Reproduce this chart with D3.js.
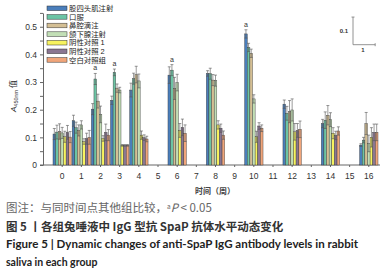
<!DOCTYPE html>
<html lang="zh">
<head>
  <meta charset="UTF-8">
  <title>IgG SpaP</title>
  <script src="https://d3js.org/d3.v7.min.js"></script>
  <style>
    body { margin: 0; background: #fff; }
    svg { display: block; }
    .cjk { font-family: "Noto Sans CJK SC", sans-serif; }
    .leg { font-family: "Liberation Sans", "Noto Sans CJK SC", sans-serif; }
    .axis text { font-family: "Liberation Sans", Arial, sans-serif; font-size: 8.5px; fill: #333; }
    .axis line, .axis path { stroke: #666; }
  </style>
</head>
<body>
  <div id="chart"></div>
  <script>
    // data
    const weeks = [0, 1, 2, 3, 4, 6, 8, 10, 12, 14, 16];
    const tickWeeks = d3.range(0, 17);
    const groups = ["股四头肌注射", "口服", "鼻腔滴注", "颌下腺注射", "阴性对照 1", "阴性对照 2", "空白对照组"];
    const colors = ["#4a7ebb", "#6cc4a4", "#d4bf94", "#c2dfb6", "#f7f35f", "#8a7692", "#f0a57a"];

    const quad  = [0.112, 0.160, 0.202, 0.234, 0.271, 0.325, 0.331, 0.474, 0.220, 0.150, 0.072];
    const oral  = [0.119, 0.135, 0.311, 0.335, 0.312, 0.343, 0.330, 0.425, 0.187, 0.162, 0.090];
    const nasal = [0.121, 0.125, 0.231, 0.278, 0.327, 0.277, 0.307, 0.404, 0.193, 0.180, 0.150];
    const subm  = [0.116, 0.145, 0.183, 0.271, 0.304, 0.298, 0.305, 0.239, 0.199, 0.164, 0.078];
    const neg1  = [0.102, 0.085, 0.096, 0.071, 0.108, 0.125, 0.145, 0.102, 0.120, 0.115, 0.100];
    const neg2  = [0.118, 0.095, 0.118, 0.071, 0.099, 0.136, 0.133, 0.141, 0.125, 0.107, 0.118];
    const blank = [0.101, 0.100, 0.108, 0.071, 0.094, 0.115, 0.108, 0.133, 0.129, 0.123, 0.118];
    const series = [quad, oral, nasal, subm, neg1, neg2, blank];

    const quadErr  = [0.020, 0.020, 0.020, 0.015, 0.025, 0.030, 0.010, 0.015, 0.015, 0.015, 0.005];
    const oralErr  = [0.025, 0.020, 0.020, 0.012, 0.020, 0.020, 0.020, 0.015, 0.025, 0.030, 0.010];
    const nasalErr = [0.028, 0.020, 0.025, 0.015, 0.030, 0.040, 0.020, 0.015, 0.040, 0.035, 0.040];
    const submErr  = [0.020, 0.015, 0.030, 0.010, 0.025, 0.030, 0.020, 0.015, 0.040, 0.025, 0.030];
    const neg1Err  = [0.020, 0.010, 0.010, 0.003, 0.015, 0.025, 0.015, 0.020, 0.030, 0.020, 0.035];
    const neg2Err  = [0.025, 0.020, 0.030, 0.003, 0.010, 0.030, 0.015, 0.012, 0.025, 0.015, 0.030];
    const blankErr = [0.020, 0.025, 0.020, 0.003, 0.010, 0.030, 0.015, 0.012, 0.030, 0.015, 0.030];
    const errors = [quadErr, oralErr, nasalErr, submErr, neg1Err, neg2Err, blankErr];

    // significance marks: [week, group index]
    const marks = [[2, 1], [3, 1], [6, 1], [10, 0]];

    const W = 389, H = 274;
    const svg = d3.select("#chart").append("svg")
      .attr("width", W).attr("height", H);

    const x = d3.scaleBand().domain(tickWeeks).range([53, 378]).paddingInner(0.04);
    const x1 = d3.scaleBand().domain(d3.range(groups.length)).range([0, x.bandwidth()]);
    const y = d3.scaleLinear().domain([0, 0.55]).range([165, 12.9]);

    const rows = [];
    weeks.forEach((w, i) => {
      series.forEach((s, g) => rows.push({ week: w, g: g, v: s[i], e: errors[g][i] }));
    });

    // y axis
    svg.append("g").attr("class", "axis")
      .attr("transform", "translate(43,0)")
      .call(d3.axisLeft(y)
        .tickValues(d3.range(0, 0.551, 0.05))
        .tickFormat(d => {
          const k = Math.round(d * 100);
          if (k % 10 !== 0) return "";
          return k === 0 ? "0" : d3.format(".1f")(d);
        })
        .tickSize(3).tickSizeOuter(0).tickPadding(3));

    // x axis
    const xg = svg.append("g").attr("class", "axis")
      .attr("transform", "translate(0,165)")
      .call(d3.axisBottom(x).tickSize(2).tickPadding(6));
    xg.select(".domain").remove();
    svg.append("line")
      .attr("x1", 40).attr("x2", 380).attr("y1", 165).attr("y2", 165)
      .attr("stroke", "#666");

    // bars
    const bars = svg.append("g");
    bars.selectAll("rect")
      .data(rows)
      .join("rect")
      .attr("x", d => x(d.week) + x1(d.g))
      .attr("y", d => y(d.v))
      .attr("width", x1.bandwidth())
      .attr("height", d => y(0) - y(d.v))
      .attr("fill", d => colors[d.g])
      .attr("stroke", "#333")
      .attr("stroke-width", 0.4);

    // error bars
    const eb = svg.append("g").attr("stroke", "#555").attr("stroke-width", 0.6);
    rows.forEach(d => {
      const cx = x(d.week) + x1(d.g) + x1.bandwidth() / 2;
      eb.append("line").attr("x1", cx).attr("x2", cx)
        .attr("y1", y(d.v - d.e)).attr("y2", y(d.v + d.e));
      eb.append("line").attr("x1", cx - 1.5).attr("x2", cx + 1.5)
        .attr("y1", y(d.v + d.e)).attr("y2", y(d.v + d.e));
      eb.append("line").attr("x1", cx - 1.5).attr("x2", cx + 1.5)
        .attr("y1", y(d.v - d.e)).attr("y2", y(d.v - d.e));
    });

    // "a" marks
    svg.append("g").selectAll("text")
      .data(marks)
      .join("text")
      .attr("x", d => x(d[0]) + x1(d[1]) + x1.bandwidth() / 2)
      .attr("y", d => {
        const i = weeks.indexOf(d[0]);
        return y(series[d[1]][i] + errors[d[1]][i]) - 3;
      })
      .attr("text-anchor", "middle")
      .style("font-family", "Liberation Sans, Arial, sans-serif")
      .style("font-size", "7px")
      .attr("fill", "#333")
      .text("a");

    // legend
    const legend = svg.append("g").selectAll("g")
      .data(groups)
      .join("g")
      .attr("transform", (d, i) => `translate(47,${6 + i * 8.6})`);
    legend.append("rect")
      .attr("width", 20).attr("height", 4.6)
      .attr("fill", (d, i) => colors[i])
      .attr("stroke", "#333").attr("stroke-width", 0.5);
    legend.append("text")
      .attr("class", "leg")
      .attr("x", 22).attr("y", 2.4)
      .attr("dy", "0.35em")
      .style("font-size", "7.4px")
      .attr("fill", "#222")
      .text(d => d);

    // scale indicator
    const sx = 353, sy = y(0.435);
    const sc = svg.append("g").attr("stroke", "#777").attr("stroke-width", 0.8);
    sc.append("line").attr("x1", sx).attr("x2", sx).attr("y1", y(0.535)).attr("y2", sy);
    sc.append("line").attr("x1", sx).attr("x2", sx + x.step() + 3).attr("y1", sy).attr("y2", sy);
    sc.append("line").attr("x1", sx - 1.5).attr("x2", sx + 1.5).attr("y1", y(0.535)).attr("y2", y(0.535));
    sc.append("line").attr("x1", sx + x.step() + 3).attr("x2", sx + x.step() + 3).attr("y1", sy - 1.5).attr("y2", sy + 1.5);
    svg.append("text").attr("x", 348).attr("y", 33)
      .attr("text-anchor", "end")
      .style("font-family", "Liberation Sans, Arial, sans-serif")
      .style("font-size", "6px").style("font-weight", "bold").attr("fill", "#333")
      .text("0.1");
    svg.append("text").attr("x", 363).attr("y", 52)
      .attr("text-anchor", "middle")
      .style("font-family", "Liberation Sans, Arial, sans-serif")
      .style("font-size", "6px").style("font-weight", "bold").attr("fill", "#333")
      .text("1");

    // axis titles
    svg.append("text")
      .attr("class", "cjk")
      .attr("x", 215).attr("y", 194)
      .attr("text-anchor", "middle")
      .style("font-size", "8px").style("font-weight", "bold").attr("fill", "#444")
      .text("时间（周）");
    const yl = svg.append("text")
      .attr("transform", "translate(16,96) rotate(-90)")
      .attr("text-anchor", "middle")
      .attr("fill", "#333")
      .style("font-size", "8px")
      .style("font-family", "Liberation Sans, Arial, sans-serif");
    yl.append("tspan").style("font-style", "italic").text("A");
    yl.append("tspan").attr("dy", 2).style("font-size", "5.5px").text("450nm");
    yl.append("tspan").attr("dy", -2).attr("class", "cjk").text(" 值");

    // captions
    const c1 = svg.append("text").attr("x", 6).attr("y", 212)
      .attr("class", "cjk").style("font-size", "11.5px").attr("fill", "#666");
    c1.append("tspan").text("图注：与同时间点其他组比较，");
    c1.append("tspan").attr("dy", -3).style("font-size", "6.5px").text("a");
    c1.append("tspan").attr("dy", 3).style("font-style", "italic").text("P");
    c1.append("tspan").text(" < 0.05");

    svg.append("text").attr("x", 6).attr("y", 231)
      .attr("class", "cjk").style("font-size", "11.5px").style("font-weight", "bold")
      .attr("fill", "#333")
      .text("图 5 丨各组兔唾液中 IgG 型抗 SpaP 抗体水平动态变化");

    svg.append("text").attr("x", 6).attr("y", 248)
      .style("font-family", "Lato, sans-serif").style("font-size", "10.5px").style("font-weight", "bold")
      .attr("fill", "#222")
      .attr("textLength", 352).attr("lengthAdjust", "spacingAndGlyphs")
      .text("Figure 5  |  Dynamic changes of anti-SpaP IgG antibody levels in rabbit");
    svg.append("text").attr("x", 6).attr("y", 266)
      .style("font-family", "Lato, sans-serif").style("font-size", "10.5px").style("font-weight", "bold")
      .attr("fill", "#222")
      .text("saliva in each group");
  </script>
</body>
</html>
